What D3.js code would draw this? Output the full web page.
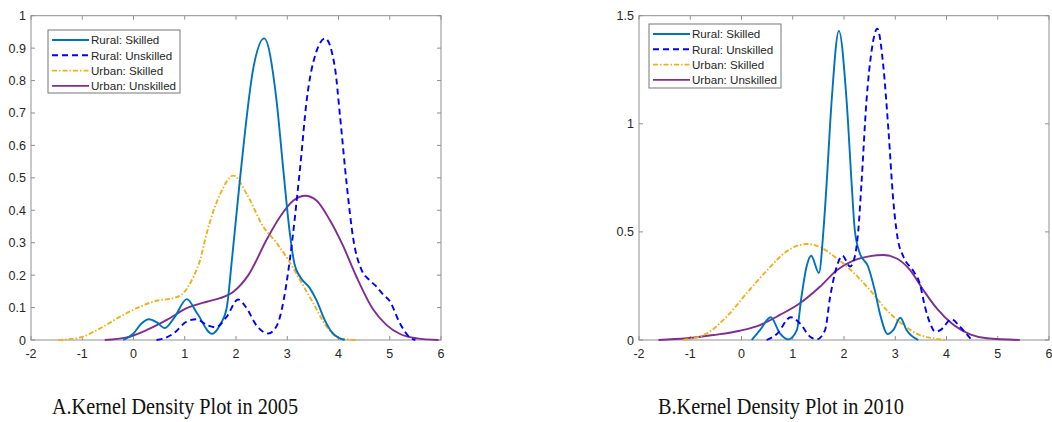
<!DOCTYPE html>
<html>
<head>
<meta charset="utf-8">
<script src="https://cdn.jsdelivr.net/npm/d3@7"></script>
<style>
  html, body { margin: 0; padding: 0; background: #fff; }
  svg { display: block; }
</style>
</head>
<body>
<svg id="chart" width="1052" height="422"></svg>
<script>
// ---------------- DATA ----------------
const seriesNames = ["Rural: Skilled", "Rural: Unskilled", "Urban: Skilled", "Urban: Unskilled"];
const xTicks = [-2, -1, 0, 1, 2, 3, 4, 5, 6];
const yTicks2005 = [0, 0.1, 0.2, 0.3, 0.4, 0.5, 0.6, 0.7, 0.8, 0.9, 1];
const yTickLabels2005 = ["0", "0.1", "0.2", "0.3", "0.4", "0.5", "0.6", "0.7", "0.8", "0.9", "1"];
const yTicks2010 = [0, 0.5, 1, 1.5];
const yTickLabels2010 = ["0", "0.5", "1", "1.5"];
const titles = ["A.Kernel Density Plot in 2005", "B.Kernel Density Plot in 2010"];

// 2005
const x05RuralSkilled = [-0.2, 0.0, 0.15, 0.3, 0.45, 0.61, 0.8, 1.04, 1.25, 1.53, 1.7, 1.82, 1.92, 2.08, 2.34, 2.55, 2.79, 2.92, 3.05, 3.14, 3.25, 3.44, 3.57, 3.73, 3.86, 4.0, 4.12];
const y05RuralSkilled = [0, 0.02, 0.05, 0.064, 0.055, 0.037, 0.07, 0.126, 0.08, 0.019, 0.05, 0.10, 0.247, 0.50, 0.84, 0.93, 0.74, 0.53, 0.33, 0.235, 0.195, 0.16, 0.123, 0.062, 0.026, 0.007, 0];
const x05RuralUnskilled = [0.45, 0.6, 0.78, 1.04, 1.23, 1.43, 1.6, 1.82, 2.04, 2.2, 2.4, 2.63, 2.8, 2.93, 3.05, 3.25, 3.38, 3.57, 3.74, 3.93, 4.03, 4.16, 4.29, 4.45, 4.6, 4.74, 4.87, 5.0, 5.2, 5.39, 5.5];
const y05RuralUnskilled = [0, 0.005, 0.02, 0.057, 0.064, 0.046, 0.039, 0.072, 0.125, 0.1, 0.045, 0.02, 0.045, 0.123, 0.247, 0.53, 0.74, 0.89, 0.93, 0.84, 0.69, 0.48, 0.31, 0.216, 0.185, 0.165, 0.14, 0.12, 0.051, 0.008, 0];
const x05UrbanSkilled = [-1.47, -1.04, -0.65, -0.26, 0.13, 0.45, 0.78, 0.97, 1.17, 1.3, 1.43, 1.69, 1.95, 2.21, 2.53, 2.79, 3.02, 3.25, 3.51, 3.77, 4.03, 4.35];
const y05UrbanSkilled = [0, 0.008, 0.036, 0.072, 0.103, 0.121, 0.129, 0.144, 0.195, 0.247, 0.33, 0.45, 0.507, 0.45, 0.35, 0.30, 0.247, 0.185, 0.113, 0.041, 0.005, 0];
const x05UrbanUnskilled = [-0.56, -0.13, 0.26, 0.65, 1.04, 1.43, 1.69, 1.95, 2.24, 2.6, 2.86, 3.12, 3.35, 3.57, 3.83, 4.09, 4.35, 4.68, 4.94, 5.2, 5.53, 5.95];
const y05UrbanUnskilled = [0, 0.008, 0.031, 0.062, 0.098, 0.118, 0.129, 0.149, 0.2, 0.31, 0.38, 0.43, 0.445, 0.43, 0.37, 0.29, 0.195, 0.093, 0.046, 0.0185, 0.005, 0];

// 2010
const x10RuralSkilled = [0.2, 0.36, 0.57, 0.75, 0.91, 1.08, 1.17, 1.27, 1.36, 1.51, 1.6, 1.66, 1.76, 1.9, 2.05, 2.15, 2.21, 2.31, 2.47, 2.6, 2.7, 2.85, 2.96, 3.1, 3.22, 3.45];
const y10RuralSkilled = [0, 0.046, 0.105, 0.031, 0.003, 0.046, 0.2, 0.34, 0.39, 0.31, 0.51, 0.72, 1.11, 1.43, 1.11, 0.72, 0.51, 0.40, 0.34, 0.23, 0.123, 0.028, 0.046, 0.103, 0.046, 0];
const x10RuralUnskilled = [0.49, 0.69, 0.96, 1.14, 1.34, 1.47, 1.63, 1.73, 1.86, 1.97, 2.12, 2.21, 2.28, 2.34, 2.44, 2.54, 2.65, 2.77, 2.87, 2.96, 3.04, 3.16, 3.35, 3.48, 3.58, 3.68, 3.78, 3.88, 4.1, 4.26, 4.49];
const y10RuralUnskilled = [0, 0.028, 0.105, 0.077, 0.015, 0.003, 0.046, 0.2, 0.34, 0.39, 0.34, 0.385, 0.51, 0.72, 1.11, 1.34, 1.44, 1.26, 0.96, 0.65, 0.48, 0.385, 0.32, 0.26, 0.154, 0.077, 0.039, 0.046, 0.096, 0.062, 0];
const x10UrbanSkilled = [-1.13, -0.68, -0.29, 0.1, 0.49, 0.88, 1.27, 1.53, 1.86, 2.18, 2.51, 2.83, 3.16, 3.48, 3.74, 3.97];
const y10UrbanSkilled = [0, 0.03, 0.108, 0.216, 0.32, 0.41, 0.444, 0.43, 0.377, 0.313, 0.23, 0.139, 0.069, 0.023, 0.008, 0];
const x10UrbanUnskilled = [-1.62, -1.07, -0.55, -0.03, 0.36, 0.75, 1.14, 1.53, 1.86, 2.18, 2.51, 2.77, 3.03, 3.29, 3.55, 3.81, 4.14, 4.46, 4.79, 5.43];
const y10UrbanUnskilled = [0, 0.008, 0.023, 0.043, 0.069, 0.116, 0.17, 0.246, 0.323, 0.367, 0.388, 0.393, 0.377, 0.323, 0.23, 0.146, 0.069, 0.026, 0.008, 0];

// ---------------- STYLE ----------------
const colors = ["#0072BD", "#0000FF", "#EDB120", "#7E2F8E"];
const dashes = [null, "6,4", "5,2,1.5,2", null];
const axisColor = "#8f8f8f";
const textColor = "#262626";

const svg = d3.select("#chart");

function zipXY(xs, ys) { return xs.map((x, i) => ({ x, y: ys[i] })); }

const panels = [
  {
    left: 31, right: 441, top: 15.7, bottom: 340, yMax: 1,
    yTicks: yTicks2005, yLabels: yTickLabels2005,
    series: [zipXY(x05RuralSkilled, y05RuralSkilled), zipXY(x05RuralUnskilled, y05RuralUnskilled),
             zipXY(x05UrbanSkilled, y05UrbanSkilled), zipXY(x05UrbanUnskilled, y05UrbanUnskilled)],
    legend: { x: 48, y: 30, w: 132, h: 63 },
    title: titles[0], titleX: 52
  },
  {
    left: 639, right: 1049, top: 15.7, bottom: 340, yMax: 1.5,
    yTicks: yTicks2010, yLabels: yTickLabels2010,
    series: [zipXY(x10RuralSkilled, y10RuralSkilled), zipXY(x10RuralUnskilled, y10RuralUnskilled),
             zipXY(x10UrbanSkilled, y10UrbanSkilled), zipXY(x10UrbanUnskilled, y10UrbanUnskilled)],
    legend: { x: 649, y: 24, w: 132, h: 64 },
    title: titles[1], titleX: 658
  }
];

panels.forEach(p => {
  const xs = d3.scaleLinear().domain([-2, 6]).range([p.left, p.right]);
  const ys = d3.scaleLinear().domain([0, p.yMax]).range([p.bottom, p.top]);
  const g = svg.append("g");
  const tl = 4;

  // box
  g.append("rect").attr("x", p.left).attr("y", p.top)
    .attr("width", p.right - p.left).attr("height", p.bottom - p.top)
    .attr("fill", "none").attr("stroke", axisColor).attr("stroke-width", 1);

  // x ticks bottom & top
  xTicks.forEach(t => {
    const x = xs(t);
    g.append("line").attr("x1", x).attr("x2", x).attr("y1", p.bottom).attr("y2", p.bottom - tl).attr("stroke", axisColor);
    g.append("line").attr("x1", x).attr("x2", x).attr("y1", p.top).attr("y2", p.top + tl).attr("stroke", axisColor);
    g.append("text").attr("x", x).attr("y", p.bottom + 18).attr("text-anchor", "middle")
      .attr("font-family", "Liberation Sans, Arial, sans-serif").attr("font-size", 12.5)
      .attr("fill", textColor).text(t);
  });
  // y ticks left & right
  p.yTicks.forEach((t, i) => {
    const y = ys(t);
    g.append("line").attr("x1", p.left).attr("x2", p.left + tl).attr("y1", y).attr("y2", y).attr("stroke", axisColor);
    g.append("line").attr("x1", p.right).attr("x2", p.right - tl).attr("y1", y).attr("y2", y).attr("stroke", axisColor);
    g.append("text").attr("x", p.left - 5).attr("y", y + 4.5).attr("text-anchor", "end")
      .attr("font-family", "Liberation Sans, Arial, sans-serif").attr("font-size", 12.5)
      .attr("fill", textColor).text(p.yLabels[i]);
  });

  // curves
  const line = d3.line().x(d => xs(d.x)).y(d => ys(d.y)).curve(d3.curveMonotoneX);
  const order = [3, 2, 0, 1];
  order.forEach(i => {
    g.append("path").datum(p.series[i]).attr("d", line)
      .attr("fill", "none").attr("stroke", colors[i]).attr("stroke-width", 1.9)
      .attr("stroke-dasharray", dashes[i]).attr("stroke-linejoin", "round");
  });

  // legend
  const L = p.legend;
  g.append("rect").attr("x", L.x).attr("y", L.y).attr("width", L.w).attr("height", L.h)
    .attr("fill", "#fff").attr("stroke", "#777").attr("stroke-width", 1);
  seriesNames.forEach((name, i) => {
    const ry = L.y + 10 + i * 15.3;
    g.append("line").attr("x1", L.x + 4).attr("x2", L.x + 41).attr("y1", ry).attr("y2", ry)
      .attr("stroke", colors[i]).attr("stroke-width", 1.9).attr("stroke-dasharray", dashes[i]);
    g.append("text").attr("x", L.x + 43).attr("y", ry + 4.2).attr("font-family", "Liberation Sans, Arial, sans-serif")
      .attr("font-size", 11.6).attr("fill", textColor).text(name);
  });

  // title
  svg.append("text").attr("x", p.titleX).attr("y", 414)
    .attr("font-family", "Liberation Serif, 'DejaVu Serif', serif").attr("font-size", 24)
    .attr("textLength", 246).attr("lengthAdjust", "spacingAndGlyphs")
    .attr("fill", "#111").text(p.title);
});
</script>
</body>
</html>
